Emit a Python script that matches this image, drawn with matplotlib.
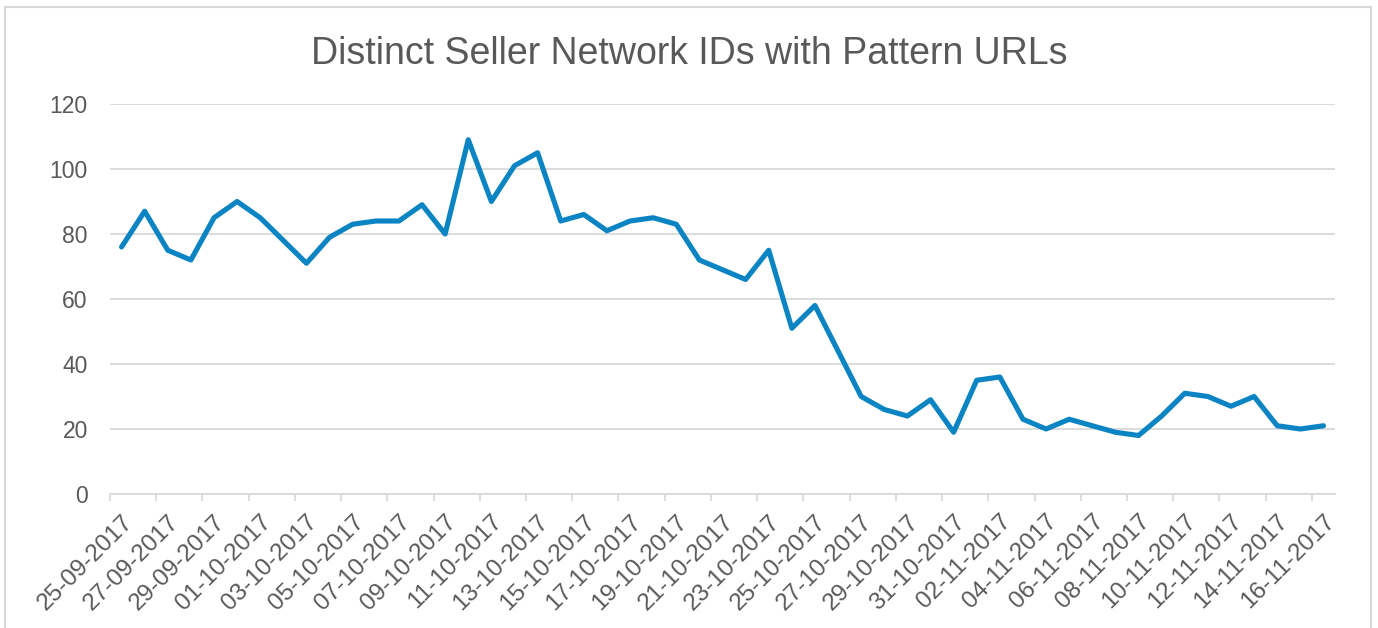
import matplotlib
matplotlib.use('Agg')
import matplotlib.pyplot as plt
import matplotlib.patches as patches
import pandas as pd

# daily counts, 25-09-2017 .. 16-11-2017
dates = pd.date_range('2017-09-25', '2017-11-16', freq='D')
date_labels = [d.strftime('%d-%m-%Y') for d in dates]
counts = [76, 87, 75, 72, 85, 90, 85, 78, 71, 79,
          83, 84, 84, 89, 80, 109, 90, 101, 105, 84,
          86, 81, 84, 85, 83, 72, 69, 66, 75, 51,
          58, 44, 30, 26, 24, 29, 19, 35, 36, 23,
          20, 23, 21, 19, 18, 24, 31, 30, 27, 30,
          21, 20, 21]
y_ticks = [0, 20, 40, 60, 80, 100, 120]

plt.rcParams['font.family'] = ['Liberation Sans', 'DejaVu Sans']
grey = '#595959'
light = '#D9D9D9'

fig = plt.figure(figsize=(13.78, 6.28), dpi=100)
ax = fig.add_axes([110/1378, 1 - 494/628, 1225/1378, 390/628])

x = list(range(len(counts)))
ax.plot(x, counts, color='#0B84C4', lw=3.7,
        solid_joinstyle='round', solid_capstyle='round', zorder=3)

ax.set_xlim(-0.5, len(counts) - 0.5)
ax.set_ylim(0, 120)
ax.set_yticks(y_ticks)
ax.grid(axis='y', color=light, lw=1.3)
ax.set_axisbelow(True)

for s in ['left', 'right', 'top']:
    ax.spines[s].set_visible(False)
ax.spines['bottom'].set_color(light)
ax.spines['bottom'].set_linewidth(1.3)

# labels every 2nd day, tick marks on category boundaries
ax.set_xticks(x[::2])
ax.set_xticklabels(date_labels[::2], rotation=45, ha='right', va='top',
                   rotation_mode='anchor')
ax.set_xticks([i - 0.5 for i in x[::2]], minor=True)
ax.tick_params(axis='x', which='major', length=0, pad=12,
               labelsize=17.5, labelcolor=grey)
ax.tick_params(axis='x', which='minor', length=5, width=1.3, color=light)
ax.tick_params(axis='y', length=0, pad=16, labelsize=16.5, labelcolor=grey)

fig.text(0.5, 1 - 54/628, 'Distinct Seller Network IDs with Pattern URLs',
         ha='center', va='center', fontsize=27, color=grey)

# chart border
fig.patches.append(patches.Rectangle((5/1378, -0.1), 1366/1378, 1.1 - 7/628,
                                     transform=fig.transFigure, fill=False,
                                     edgecolor=light, lw=1.5))

fig.savefig('out.png', dpi=100, facecolor='white')
